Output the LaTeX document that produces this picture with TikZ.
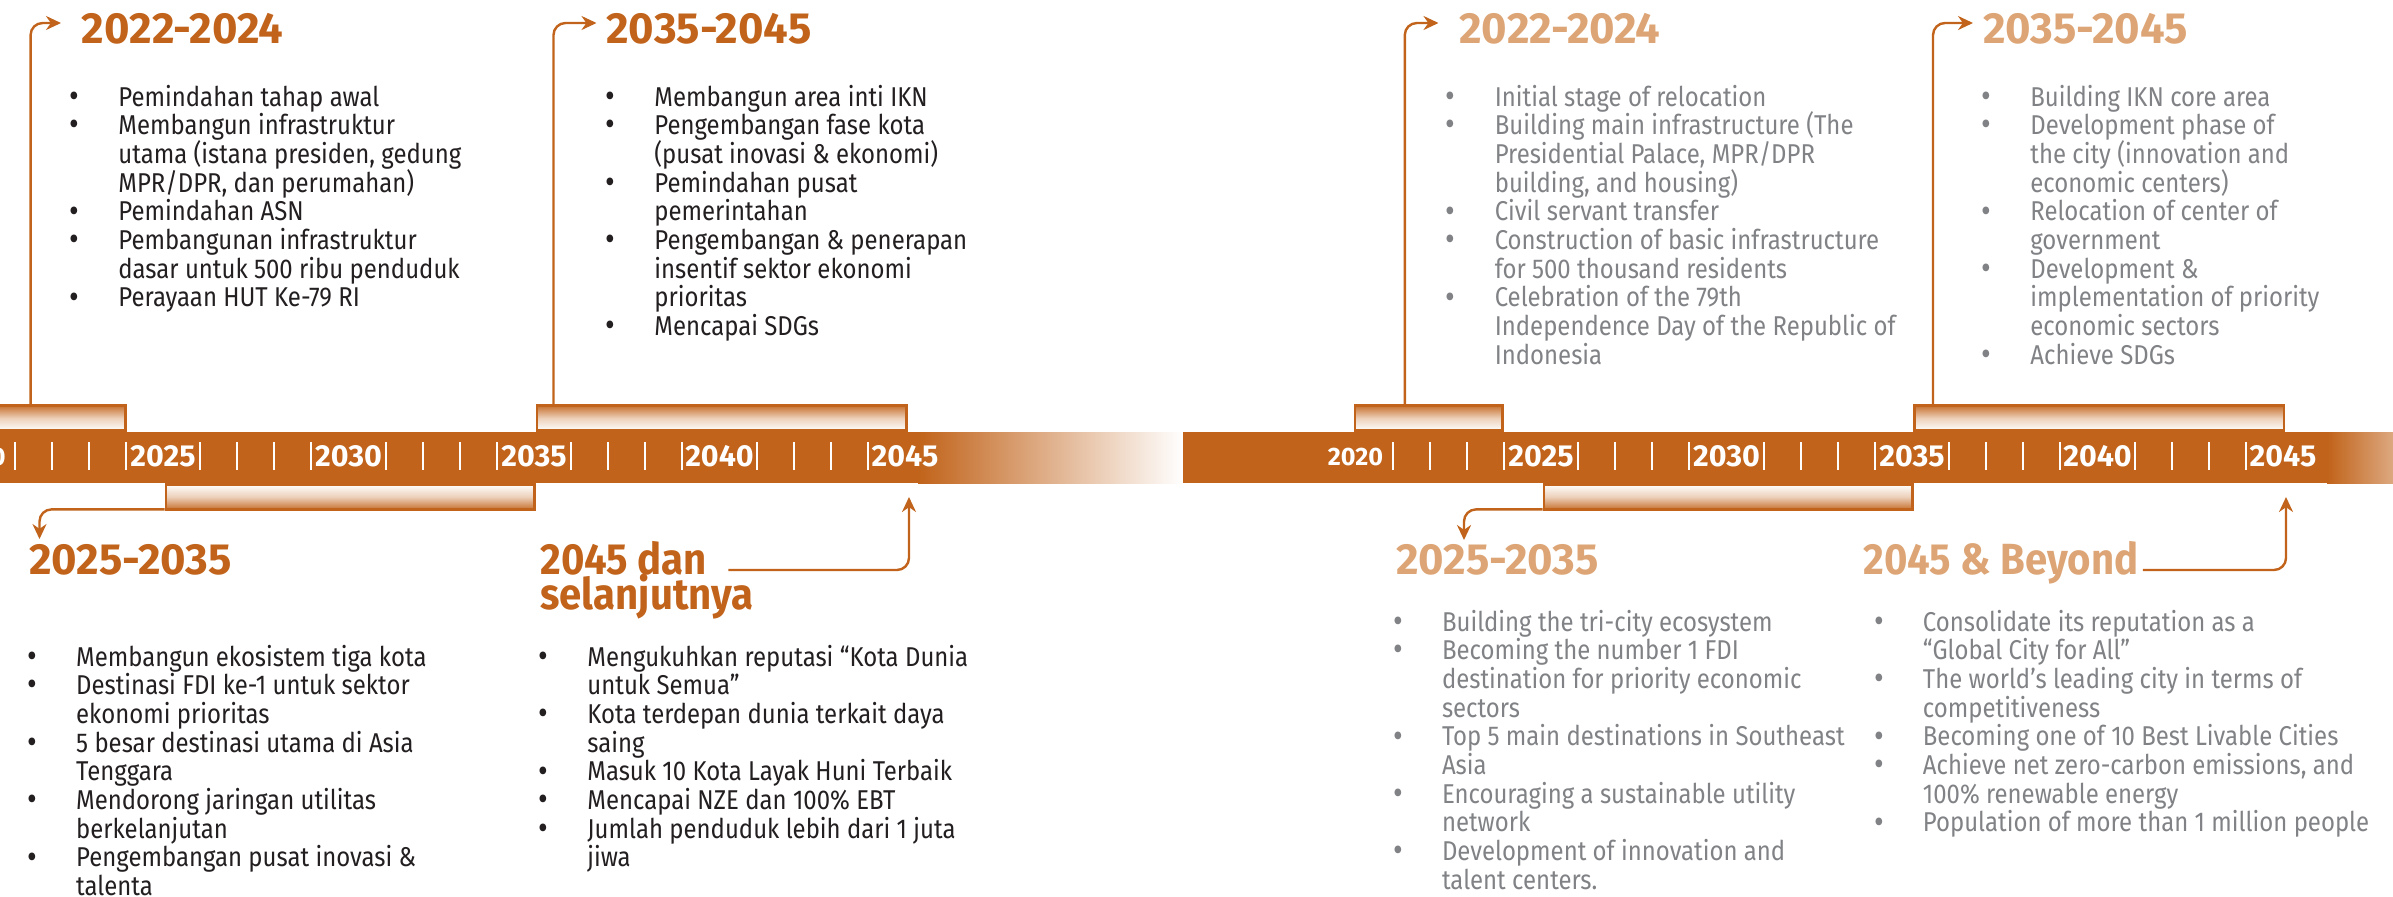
\documentclass[tikz,border=0pt]{standalone}
\usepackage{fontspec}
\usetikzlibrary{arrows.meta}
\newfontfamily\bodyfont[FakeStretch=0.88]{Fira Sans}
\newfontfamily\headfont[FakeStretch=1.0]{Fira Sans}
\newfontfamily\wordfont[FakeStretch=0.92]{Fira Sans}
\definecolor{barorange}{RGB}{193,99,26}
\definecolor{tan}{RGB}{221,165,117}
\definecolor{darktext}{RGB}{35,31,32}
\definecolor{graytext}{RGB}{128,130,133}
\newcommand{\itemb}[1]{\hbox{\makebox[22pt][l]{\makebox[0pt]{\raisebox{-0.6pt}{\scalebox{1.25}{\textbullet}}}}#1}}
\newcommand{\itemc}[1]{\hbox{\hspace*{22pt}#1}}
\newcommand{\listbox}[1]{\vtop{\baselineskip=14.35pt\lineskiplimit=-\maxdimen\lineskip=0pt #1}}
\tikzset{
  conn/.style={draw=barorange, line width=1.2pt, rounded corners=6pt, -{Stealth[length=7.5pt,width=7pt]}},
  upbox/.style={draw=barorange, line width=1.3pt, inner sep=0pt, minimum height=12.5pt, anchor=south west,
     top color=barorange!90!white, bottom color=white, middle color=barorange!30!white},
  downbox/.style={draw=barorange, line width=1.3pt, inner sep=0pt, minimum height=12.5pt, anchor=north west,
     top color=white, bottom color=barorange!90!white, middle color=barorange!30!white},
  tick/.style={draw=white, line width=1pt},
  yearlab/.style={inner sep=0pt, anchor=base, text=white, font={\headfont\bfseries\fontsize{15.2pt}{16pt}\selectfont}},
  yearsmall/.style={yearlab, font={\headfont\bfseries\fontsize{12.6pt}{13pt}\selectfont}},
  ltitle/.style={inner sep=0pt, anchor=base west, text=barorange, font={\headfont\bfseries\fontsize{21.8pt}{22pt}\selectfont}},
  lwtitle/.style={ltitle, font={\wordfont\bfseries\fontsize{21.8pt}{22pt}\selectfont}},
  rtitle/.style={ltitle, text=tan},
  rwtitle/.style={lwtitle, text=tan},
  llist/.style={inner sep=0pt, anchor=base west, text=darktext, font={\bodyfont\fontsize{13.6pt}{14.35pt}\selectfont}},
  rlist/.style={llist, text=graytext},
}
\begin{document}
\begin{tikzpicture}[x=0.5pt, y=-0.5pt]
\useasboundingbox (0,0) rectangle (2393,896);
\clip (0,0) rectangle (2393,896);
\fill[white] (0,0) rectangle (2393,896);

% ---------- bracket boxes ----------
\node[upbox, minimum width=67pt] (lb1) at (-10,432) {};
\node[upbox, minimum width=184.75pt] (lb2) at (535.5,432) {};
\node[downbox, minimum width=184.25pt] (lb3) at (164.5,483) {};
\node[upbox, minimum width=73.75pt] (rb1) at (1353.8,432) {};
\node[upbox, minimum width=184.75pt] (rb2) at (1913,432) {};
\node[downbox, minimum width=184.25pt] (rb3) at (1542.5,483) {};

% ---------- bars ----------
\fill[barorange] (-5,432) rectangle (918,483);
\shade[left color=barorange, right color=white] (918,432) rectangle (1183,483);
\fill[barorange] (1183,432) rectangle (2327,483);
\shade[left color=barorange, right color=barorange!55!white] (2327,432) rectangle (2394,483);

% ---------- ticks and year labels ----------
\foreach \yr in {2021,...,2044}{
  \pgfmathtruncatemacro\m{mod(\yr,5)}
  \ifnum\m=0\else
    \draw[tick] ({163+(\yr-2025)*37.1},442) -- ++(0,28);
    \draw[tick] ({1541+(\yr-2025)*37.1},442) -- ++(0,28);
  \fi
}
\foreach \yr in {2025,2030,2035,2040,2045}{
  \node[yearlab] (ly\yr) at ({163+(\yr-2025)*37.1},466) {\yr};
  \node[yearlab] (ry\yr) at ({1541+(\yr-2025)*37.1},466) {\yr};
}
\node[yearsmall] (ly2020) at (-22,465) {2020};
\node[yearsmall] (ry2020) at (1355.5,465) {2020};

% ---------- titles ----------
\node[ltitle] (lt1) at (81.5,43) {2022-2024};
\node[ltitle] (lt2) at (606,43) {2035-2045};
\node[ltitle] (lt3) at (28.7,574) {2025-2035};
\node[lwtitle] (lt4a) at (540,574) {2045 dan};
\node[lwtitle] (lt4b) at (540,609) {selanjutnya};
\node[rtitle] (rt1) at (1459,43) {2022-2024};
\node[rtitle] (rt2) at (1982.6,43) {2035-2045};
\node[rtitle] (rt3) at (1395.7,574) {2025-2035};
\node[rwtitle] (rt4) at (1863,574) {2045 \& Beyond};

% ---------- connectors ----------
\coordinate (lt1tip) at (61,23);
\coordinate (lt2tip) at (596.5,23);
\coordinate (lt3tip) at (39.5,539);
\coordinate (l45tip) at (909,497);
\coordinate (rt1tip) at (1438.5,23);
\coordinate (rt2tip) at (1973,23);
\coordinate (rt3tip) at (1464,540);
\coordinate (r45tip) at (2286,497);

\draw[conn] ([xshift=-48pt]lb1.north east) |- (lt1tip);
\draw[conn] ([xshift=9pt]lb2.north west) |- (lt2tip);
\draw[conn] ([yshift=0.6pt]lb3.south west) -| (lt3tip);
\draw[conn] ([xshift=10.5pt,yshift=2pt]lt4a.base east) -| (l45tip);
\draw[conn] ([xshift=25.5pt]rb1.north west) |- (rt1tip);
\draw[conn] ([xshift=10pt]rb2.north west) |- (rt2tip);
\draw[conn] ([yshift=0.6pt]rb3.south west) -| (rt3tip);
\draw[conn] ([xshift=2pt,yshift=2pt]rt4.base east) -| (r45tip);

% ---------- lists ----------
\node[llist] (ll1) at (74,106) {\listbox{%
\itemb{Pemindahan tahap awal}
\itemb{Membangun infrastruktur}
\itemc{utama (istana presiden, gedung}
\itemc{MPR/DPR, dan perumahan)}
\itemb{Pemindahan ASN}
\itemb{Pembangunan infrastruktur}
\itemc{dasar untuk 500 ribu penduduk}
\itemb{Perayaan HUT Ke-79 RI}}};

\node[llist] (ll2) at (610,106) {\listbox{%
\itemb{Membangun area inti IKN}
\itemb{Pengembangan fase kota}
\itemc{(pusat inovasi \& ekonomi)}
\itemb{Pemindahan pusat}
\itemc{pemerintahan}
\itemb{Pengembangan \& penerapan}
\itemc{insentif sektor ekonomi}
\itemc{prioritas}
\itemb{Mencapai SDGs}}};

\node[llist] (ll3) at (31.8,666) {\listbox{%
\itemb{Membangun ekosistem tiga kota}
\itemb{Destinasi FDI ke-1 untuk sektor}
\itemc{ekonomi prioritas}
\itemb{5 besar destinasi utama di Asia}
\itemc{Tenggara}
\itemb{Mendorong jaringan utilitas}
\itemc{berkelanjutan}
\itemb{Pengembangan pusat inovasi \&}
\itemc{talenta}}};

\node[llist] (ll4) at (543,666) {\listbox{%
\itemb{Mengukuhkan reputasi “Kota Dunia}
\itemc{untuk Semua”}
\itemb{Kota terdepan dunia terkait daya}
\itemc{saing}
\itemb{Masuk 10 Kota Layak Huni Terbaik}
\itemb{Mencapai NZE dan 100\% EBT}
\itemb{Jumlah penduduk lebih dari 1 juta}
\itemc{jiwa}}};

\node[rlist] (rl1) at (1450.4,106) {\listbox{%
\itemb{Initial stage of relocation}
\itemb{Building main infrastructure (The}
\itemc{Presidential Palace, MPR/DPR}
\itemc{building, and housing)}
\itemb{Civil servant transfer}
\itemb{Construction of basic infrastructure}
\itemc{for 500 thousand residents}
\itemb{Celebration of the 79th}
\itemc{Independence Day of the Republic of}
\itemc{Indonesia}}};

\node[rlist] (rl2) at (1986,106) {\listbox{%
\itemb{Building IKN core area}
\itemb{Development phase of}
\itemc{the city (innovation and}
\itemc{economic centers)}
\itemb{Relocation of center of}
\itemc{government}
\itemb{Development \&}
\itemc{implementation of priority}
\itemc{economic sectors}
\itemb{Achieve SDGs}}};

\node[rlist] (rl3) at (1397.6,631) {\listbox{%
\itemb{Building the tri-city ecosystem}
\itemb{Becoming the number 1 FDI}
\itemc{destination for priority economic}
\itemc{sectors}
\itemb{Top 5 main destinations in Southeast}
\itemc{Asia}
\itemb{Encouraging a sustainable utility}
\itemc{network}
\itemb{Development of innovation and}
\itemc{talent centers.}}};

\node[rlist] (rl4) at (1878.5,631) {\listbox{%
\itemb{Consolidate its reputation as a}
\itemc{“Global City for All”}
\itemb{The world’s leading city in terms of}
\itemc{competitiveness}
\itemb{Becoming one of 10 Best Livable Cities}
\itemb{Achieve net zero-carbon emissions, and}
\itemc{100\% renewable energy}
\itemb{Population of more than 1 million people}}};
\end{tikzpicture}
\end{document}
